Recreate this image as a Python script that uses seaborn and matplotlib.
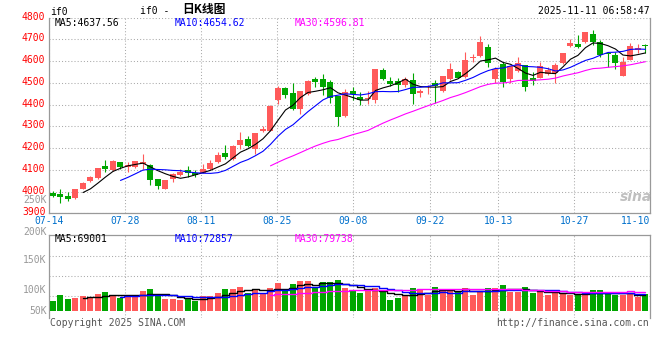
import pandas as pd
import matplotlib
import matplotlib.pyplot as plt
import matplotlib.transforms as mtransforms
import seaborn as sns

matplotlib.use("Agg")

sns.set_theme(style="white")
plt.rcParams["font.family"] = ["DejaVu Sans Mono", "Noto Sans CJK SC"]
plt.rcParams["font.size"] = 7

# IF0 daily bars, 2025-07-14 .. 2025-11-10
opens = [3995, 3989, 3981, 3972, 4013, 4050, 4064, 4119, 4099, 4135,
         4115, 4112, 4127, 4122, 4058, 4012, 4056, 4076, 4099, 4084,
         4087, 4104, 4138, 4178, 4151, 4214, 4242, 4197, 4279, 4280,
         4421, 4476, 4454, 4380, 4449, 4518, 4518, 4503, 4438, 4349,
         4463, 4437, 4426, 4421, 4561, 4510, 4509, 4490, 4513, 4452,
         4480, 4498, 4464, 4518, 4552, 4529, 4613, 4625, 4667, 4518,
         4585, 4518, 4556, 4582, 4524, 4524, 4541, 4544, 4590, 4671,
         4679, 4687, 4725, 4690, 4636, 4628, 4533, 4605, 4651, 4674]
highs = [4004, 4010, 3997, 4012, 4046, 4073, 4110, 4145, 4145, 4135,
         4135, 4141, 4173, 4125, 4058, 4053, 4087, 4102, 4118, 4099,
         4125, 4145, 4182, 4214, 4214, 4276, 4257, 4271, 4300, 4397,
         4484, 4481, 4498, 4463, 4513, 4529, 4542, 4513, 4438, 4472,
         4483, 4460, 4463, 4564, 4567, 4529, 4521, 4529, 4547, 4470,
         4490, 4513, 4532, 4590, 4556, 4644, 4633, 4716, 4677, 4575,
         4595, 4579, 4621, 4582, 4552, 4598, 4572, 4590, 4639, 4700,
         4720, 4736, 4743, 4697, 4644, 4644, 4621, 4685, 4679, 4679]
lows = [3977, 3949, 3955, 3967, 4010, 4044, 4056, 4092, 4096, 4102,
        4092, 4107, 4102, 4030, 4012, 4012, 4046, 4072, 4066, 4069,
        4084, 4099, 4133, 4150, 4147, 4196, 4205, 4173, 4274, 4277,
        4403, 4431, 4377, 4358, 4444, 4480, 4444, 4406, 4302, 4342,
        4421, 4398, 4403, 4409, 4513, 4487, 4457, 4480, 4403, 4437,
        4447, 4406, 4460, 4513, 4521, 4524, 4598, 4621, 4575, 4498,
        4480, 4498, 4552, 4463, 4490, 4521, 4536, 4501, 4587, 4667,
        4659, 4682, 4674, 4621, 4575, 4562, 4533, 4605, 4636, 4636]
closes = [3981, 3977, 3966, 4012, 4041, 4067, 4109, 4105, 4141, 4113,
          4124, 4141, 4135, 4053, 4026, 4053, 4081, 4092, 4084, 4075,
          4104, 4133, 4168, 4158, 4210, 4237, 4210, 4271, 4286, 4394,
          4478, 4446, 4381, 4463, 4510, 4506, 4480, 4429, 4345, 4458,
          4449, 4421, 4432, 4564, 4518, 4496, 4490, 4518, 4447, 4463,
          4486, 4486, 4532, 4564, 4524, 4605, 4621, 4688, 4590, 4564,
          4506, 4579, 4593, 4483, 4510, 4578, 4559, 4582, 4639, 4685,
          4667, 4736, 4690, 4628, 4633, 4590, 4598, 4670, 4659, 4671]
volumes = [42000, 67200, 50400, 54600, 63000, 54600, 71400, 79800, 67200, 54600,
           63000, 63000, 84000, 92400, 63000, 50400, 50400, 46200, 54600, 42000,
           63000, 63000, 75600, 92400, 92400, 100800, 75600, 92400, 71400, 96600,
           117600, 88200, 113400, 126000, 126000, 96600, 121800, 121800, 130200, 96600,
           84000, 75600, 84000, 96600, 79800, 46200, 54600, 63000, 96600, 88200,
           67200, 100800, 88200, 88200, 79800, 96600, 67200, 79800, 96600, 96600,
           109200, 79800, 79800, 100800, 75600, 84000, 67200, 79800, 75600, 67200,
           71400, 67200, 88200, 88200, 71400, 67200, 67200, 75600, 58800, 71400]

tick_idx = [0, 10, 20, 30, 40, 50, 59, 69, 79]
tick_labels = ["07-14", "07-28", "08-11", "08-25", "09-08", "09-22", "10-13", "10-27", "11-10"]
price_ticks = [3900, 4000, 4100, 4200, 4300, 4400, 4500, 4600, 4700, 4800]
vol_labels = ["250K", "200K", "150K", "100K", "50K"]
vol_label_y = [200, 231.5, 260, 290, 311]

ma_text = ["MA5:4637.56", "MA10:4654.62", "MA30:4596.81"]
vol_ma_text = ["MA5:69001", "MA10:72857", "MA30:79738"]
ma_windows = [5, 10, 30]
ma_colors = ["black", "#0000ff", "#ff00ff"]

UP = "#ff5a5a"
DOWN = "#00a600"
GRID = "#aaaaaa"
FRAME = "#999999"

df = pd.DataFrame({"open": opens, "high": highs, "low": lows,
                   "close": closes, "vol": volumes})
df["i"] = range(len(df))
df["color"] = [UP if c >= o else DOWN for o, c in zip(df.open, df.close)]
df["body_lo"] = df[["open", "close"]].min(axis=1)
df["body_h"] = (df.close - df.open).abs().clip(lower=4.5)

W, H = 660, 360
fig = plt.figure(figsize=(6.6, 3.6), dpi=100)


def fx(x):
    return x / W


def fy(y):
    return 1 - y / H


# sina stretches its date grid a little wider than the candles
GRID_STRETCH = 1.0153
GRID_SHIFT = -0.553
xticks = [GRID_SHIFT + GRID_STRETCH * k for k in tick_idx]
xlim = (GRID_SHIFT, GRID_SHIFT + GRID_STRETCH * 79)

ax = fig.add_axes([fx(48.85), fy(213.3), fx(601.55), (213.3 - 17.6) / H])
axv = fig.add_axes([fx(48.85), fy(318), fx(601.55), (318 - 234.5) / H], sharex=ax)

dots = (0, (1, 2))

# price panel
ax.vlines(df.i, df.low, df.high, colors=df.color, lw=0.8, zorder=3)
ax.bar(df.i, df.body_h, bottom=df.body_lo, width=0.8, color=df.color,
       linewidth=0, zorder=4)
for n, c in zip(ma_windows, ma_colors):
    ma = df.close.rolling(n).mean()
    ok = ma.notna()
    sns.lineplot(x=df.i[ok], y=ma[ok], ax=ax, color=c, lw=0.8, zorder=5)

ax.set_ylim(3900, 4800)
ax.set_xlim(*xlim)
ax.set_yticks(price_ticks)
ax.set_xticks(xticks)
ax.set_xticklabels(tick_labels)
ax.set_xlabel("")
ax.set_ylabel("")
ax.grid(True, color=GRID, linestyle=dots, lw=0.75)
ax.tick_params(axis="y", length=0, pad=2.5, labelcolor="#ff0000", labelsize=7)
ax.tick_params(axis="x", length=0, pad=2, labelcolor="#0070cc", labelsize=7)
ax.get_xticklabels()[-1].set_ha("right")
shift = mtransforms.ScaledTranslation(0, 2 / 100, fig.dpi_scale_trans)
for lab in ax.get_yticklabels():
    lab.set_transform(lab.get_transform() + shift)
for side, sp in ax.spines.items():
    sp.set_color(FRAME)
    sp.set_linewidth(0.9)
ax.spines["top"].set_visible(False)

# volume panel
axv.bar(df.i, df.vol, width=0.8, color=df.color, linewidth=0, zorder=3)
for n, c in zip(ma_windows, ma_colors):
    ma = df.vol.rolling(n).mean()
    ok = ma.notna()
    sns.lineplot(x=df.i[ok], y=ma[ok], ax=axv, color=c, lw=1.0,
                 drawstyle="steps-mid", zorder=5)
axv.set_ylim(-29400, 321300)
axv.set_yticks([64000, 148000, 232000])
axv.set_xlim(*xlim)
axv.grid(True, color=GRID, linestyle=dots, lw=0.75)
axv.tick_params(length=0, labelleft=False, labelbottom=False)
axv.set_xlabel("")
axv.set_ylabel("")
for side, sp in axv.spines.items():
    sp.set_color(FRAME)
    sp.set_linewidth(0.9)
axv.spines["bottom"].set_visible(False)

# header texts
fig.text(fx(50), fy(12), "if0", ha="left", va="center", color="black")
fig.text(fx(140), fy(11), "if0 - ", ha="left", va="center", color="black")
fig.text(fx(182), fy(10), "日K线图", ha="left", va="center", color="black",
         family="Noto Sans CJK SC", fontweight="bold", fontsize=8.5)
fig.text(fx(650), fy(11), "2025-11-11 06:58:47", ha="right", va="center",
         color="black")

for t, c, x in zip(ma_text, ma_colors, [55, 175, 295]):
    fig.text(fx(x), fy(23.5), t, ha="left", va="center", color=c)
for t, c, x in zip(vol_ma_text, ma_colors, [55, 175, 295]):
    fig.text(fx(x), fy(239), t, ha="left", va="center", color=c)

for t, y in zip(vol_labels, vol_label_y):
    fig.text(fx(46.5), fy(y), t, ha="right", va="center", color="#999999")

fig.text(fx(50), fy(323), "Copyright 2025 SINA.COM", ha="left", va="center",
         color="#555555")
fig.text(fx(649), fy(323), "http://finance.sina.com.cn", ha="right",
         va="center", color="#555555")
fig.text(fx(652), fy(197), "sina", ha="right", va="center", color="#b0b0b0",
         family="DejaVu Sans", fontstyle="italic", fontweight="bold",
         fontsize=10, alpha=0.8)

fig.savefig("out.png", dpi=100, facecolor="white")
